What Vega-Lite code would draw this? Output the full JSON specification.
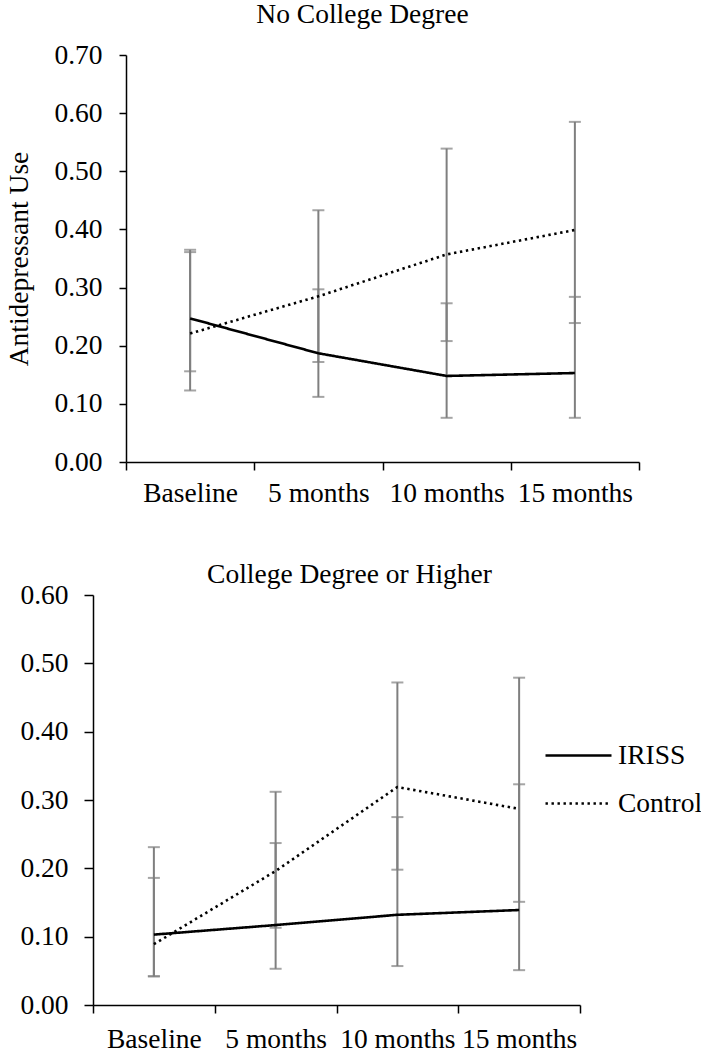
{
  "$schema": "https://vega.github.io/schema/vega-lite/v6.json",
  "background": "white",
  "padding": {"left": 5, "top": 0, "right": 0, "bottom": 0},
  "config": {
    "font": "Liberation Serif",
    "view": {"stroke": null},
    "axis": {
      "grid": false,
      "labelFont": "Liberation Serif",
      "labelFontSize": 27.5,
      "labelColor": "#000000",
      "domainColor": "#000000",
      "domainWidth": 1.5,
      "tickColor": "#000000",
      "tickWidth": 1.5,
      "titleFont": "Liberation Serif",
      "titleFontSize": 27.5,
      "titleFontWeight": "normal",
      "titleColor": "#000000"
    }
  },
  "datasets": {
    "d": [
      {"p": "A", "g": "IRISS", "t": "Baseline", "v": 0.247, "lo": 0.123, "hi": 0.365},
      {"p": "A", "g": "Control", "t": "Baseline", "v": 0.221, "lo": 0.156, "hi": 0.361},
      {"p": "A", "g": "IRISS", "t": "5 months", "v": 0.187, "lo": 0.112, "hi": 0.297},
      {"p": "A", "g": "Control", "t": "5 months", "v": 0.285, "lo": 0.172, "hi": 0.433},
      {"p": "A", "g": "IRISS", "t": "10 months", "v": 0.148, "lo": 0.076, "hi": 0.273},
      {"p": "A", "g": "Control", "t": "10 months", "v": 0.357, "lo": 0.208, "hi": 0.539},
      {"p": "A", "g": "IRISS", "t": "15 months", "v": 0.153, "lo": 0.076, "hi": 0.284},
      {"p": "A", "g": "Control", "t": "15 months", "v": 0.399, "lo": 0.239, "hi": 0.585},
      {"p": "B", "g": "IRISS", "t": "Baseline", "v": 0.103, "lo": 0.042, "hi": 0.186},
      {"p": "B", "g": "Control", "t": "Baseline", "v": 0.089, "lo": 0.042, "hi": 0.231},
      {"p": "B", "g": "IRISS", "t": "5 months", "v": 0.117, "lo": 0.053, "hi": 0.237},
      {"p": "B", "g": "Control", "t": "5 months", "v": 0.196, "lo": 0.113, "hi": 0.312},
      {"p": "B", "g": "IRISS", "t": "10 months", "v": 0.132, "lo": 0.057, "hi": 0.275},
      {"p": "B", "g": "Control", "t": "10 months", "v": 0.319, "lo": 0.198, "hi": 0.472},
      {"p": "B", "g": "IRISS", "t": "15 months", "v": 0.139, "lo": 0.051, "hi": 0.323},
      {"p": "B", "g": "Control", "t": "15 months", "v": 0.287, "lo": 0.151, "hi": 0.479}
    ]
  },
  "columns": 1,
  "align": "none",
  "spacing": 53,
  "resolve": {
    "scale": {"x": "independent", "y": "independent", "strokeDash": "independent"},
    "legend": {"strokeDash": "independent"}
  },
  "concat": [
    {
      "width": 546,
      "height": 407,
      "title": {"text": "No College Degree", "font": "Liberation Serif", "fontSize": 27.5, "fontWeight": "normal", "color": "#000000", "anchor": "middle", "frame": "group", "offset": 13, "dx": -3.5},
      "data": {"name": "d"},
      "transform": [{"filter": "datum.p == 'A'"}],
      "encoding": {
        "x": {
          "field": "t", "type": "ordinal",
          "sort": ["Baseline", "5 months", "10 months", "15 months"],
          "scale": {"paddingInner": 0, "paddingOuter": 0, "range": [33, 546]},
          "axis": {"title": null, "labelAngle": 0, "tickBand": "extent", "tickSize": 8, "labelPadding": 9}
        }
      },
      "layer": [
        {
          "mark": {"type": "rule", "color": "#7f7f7f", "strokeWidth": 2},
          "encoding": {
            "y": {"field": "lo", "type": "quantitative", "scale": {"domain": [0, 0.7], "nice": false}, "title": "Antidepressant Use",
              "axis": {"title": "Antidepressant Use", "offset": -33, "values": [0, 0.1, 0.2, 0.3, 0.4, 0.5, 0.6, 0.7], "format": ".2f", "tickSize": 7, "labelPadding": 17, "titlePadding": 20}},
            "y2": {"field": "hi"}
          }
        },
        {
          "mark": {"type": "tick", "color": "#7f7f7f", "orient": "horizontal", "size": 12, "thickness": 2},
          "encoding": {
            "y": {"field": "lo", "type": "quantitative", "scale": {"domain": [0, 0.7], "nice": false}, "title": "Antidepressant Use",
              "axis": {"title": "Antidepressant Use", "offset": -33, "values": [0, 0.1, 0.2, 0.3, 0.4, 0.5, 0.6, 0.7], "format": ".2f", "tickSize": 7, "labelPadding": 17, "titlePadding": 20}}
          }
        },
        {
          "mark": {"type": "tick", "color": "#7f7f7f", "orient": "horizontal", "size": 12, "thickness": 2},
          "encoding": {
            "y": {"field": "hi", "type": "quantitative", "scale": {"domain": [0, 0.7], "nice": false}, "title": "Antidepressant Use",
              "axis": {"title": "Antidepressant Use", "offset": -33, "values": [0, 0.1, 0.2, 0.3, 0.4, 0.5, 0.6, 0.7], "format": ".2f", "tickSize": 7, "labelPadding": 17, "titlePadding": 20}}
          }
        },
        {
          "mark": {"type": "line", "color": "#000000", "strokeWidth": 2.6},
          "encoding": {
            "y": {"field": "v", "type": "quantitative", "scale": {"domain": [0, 0.7], "nice": false}, "title": "Antidepressant Use",
              "axis": {"title": "Antidepressant Use", "offset": -33, "values": [0, 0.1, 0.2, 0.3, 0.4, 0.5, 0.6, 0.7], "format": ".2f", "tickSize": 7, "labelPadding": 17, "titlePadding": 20}},
            "strokeDash": {"field": "g", "type": "nominal", "scale": {"domain": ["IRISS", "Control"], "range": [[1, 0], [2.4, 3.6]]}, "legend": null}
          }
        }
      ]
    },
    {
      "width": 487,
      "height": 410,
      "title": {"text": "College Degree or Higher", "font": "Liberation Serif", "fontSize": 27.5, "fontWeight": "normal", "color": "#000000", "anchor": "middle", "frame": "group", "offset": -7, "dx": 13},
      "data": {"name": "d"},
      "transform": [{"filter": "datum.p == 'B'"}],
      "encoding": {
        "x": {
          "field": "t", "type": "ordinal",
          "sort": ["Baseline", "5 months", "10 months", "15 months"],
          "scale": {"paddingInner": 0, "paddingOuter": 0},
          "axis": {"title": null, "labelAngle": 0, "tickBand": "extent", "tickSize": 8, "labelPadding": 12}
        }
      },
      "layer": [
        {
          "mark": {"type": "rule", "color": "#7f7f7f", "strokeWidth": 2},
          "encoding": {
            "y": {"field": "lo", "type": "quantitative", "scale": {"domain": [0, 0.6], "nice": false}, "title": null,
              "axis": {"title": null, "values": [0, 0.1, 0.2, 0.3, 0.4, 0.5, 0.6], "format": ".2f", "tickSize": 9, "labelPadding": 16}},
            "y2": {"field": "hi"}
          }
        },
        {
          "mark": {"type": "tick", "color": "#7f7f7f", "orient": "horizontal", "size": 12, "thickness": 2},
          "encoding": {
            "y": {"field": "lo", "type": "quantitative", "scale": {"domain": [0, 0.6], "nice": false}, "title": null,
              "axis": {"title": null, "values": [0, 0.1, 0.2, 0.3, 0.4, 0.5, 0.6], "format": ".2f", "tickSize": 9, "labelPadding": 16}}
          }
        },
        {
          "mark": {"type": "tick", "color": "#7f7f7f", "orient": "horizontal", "size": 12, "thickness": 2},
          "encoding": {
            "y": {"field": "hi", "type": "quantitative", "scale": {"domain": [0, 0.6], "nice": false}, "title": null,
              "axis": {"title": null, "values": [0, 0.1, 0.2, 0.3, 0.4, 0.5, 0.6], "format": ".2f", "tickSize": 9, "labelPadding": 16}}
          }
        },
        {
          "mark": {"type": "line", "color": "#000000", "strokeWidth": 2.6},
          "encoding": {
            "y": {"field": "v", "type": "quantitative", "scale": {"domain": [0, 0.6], "nice": false}, "title": null,
              "axis": {"title": null, "values": [0, 0.1, 0.2, 0.3, 0.4, 0.5, 0.6], "format": ".2f", "tickSize": 9, "labelPadding": 16}},
            "strokeDash": {"field": "g", "type": "nominal", "scale": {"domain": ["IRISS", "Control"], "range": [[1, 0], [2.4, 3.6]]},
              "legend": {"title": null, "orient": "none", "legendX": 451, "legendY": 126, "padding": 0, "symbolType": "stroke", "symbolSize": 4356, "symbolStrokeWidth": 2.5, "symbolStrokeColor": "#000000", "labelFont": "Liberation Serif", "labelFontSize": 27.5, "labelColor": "#000000", "labelOffset": 5, "rowPadding": -4}}
          }
        }
      ]
    }
  ]
}
